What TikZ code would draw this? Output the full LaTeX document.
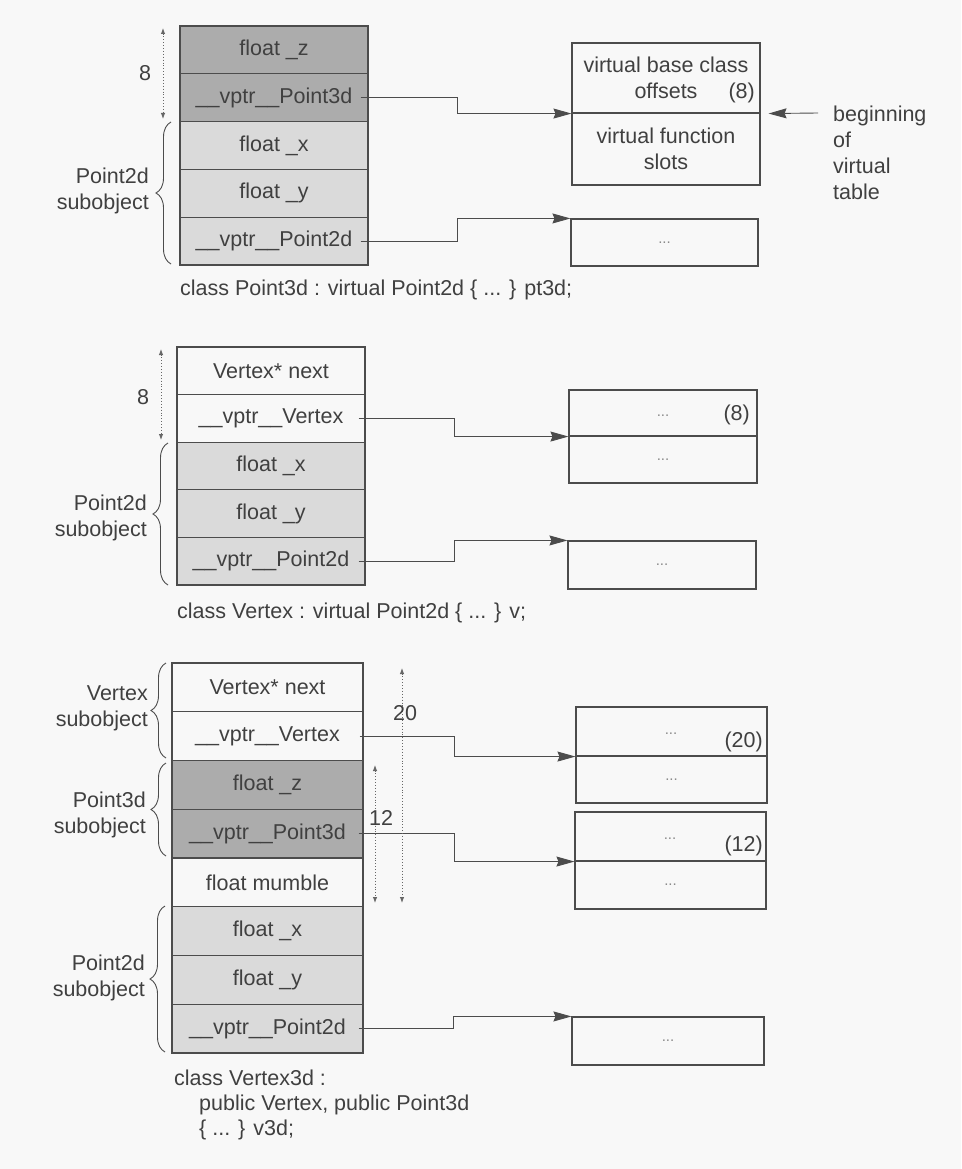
\documentclass[tikz,border=0pt]{standalone}
\usepackage{fontspec}
\setmainfont{Liberation Sans}
\usetikzlibrary{arrows.meta,decorations.pathreplacing,calc}
\definecolor{ink}{HTML}{404040}
\definecolor{linec}{HTML}{4C4C4C}
\definecolor{darkf}{HTML}{ACACAC}
\definecolor{lightf}{HTML}{DADADA}
\definecolor{bgc}{HTML}{F8F8F8}
\definecolor{dotc}{HTML}{8A8A8A}
\begin{document}
\begin{tikzpicture}[x=1pt,y=-1pt,
  every node/.style={font=\fontsize{21.5}{26}\selectfont, text=ink, inner sep=0pt},
  cell/.style={draw=linec, line width=1.3pt},
  vt/.style={draw=linec, line width=1.1pt},
  divline/.style={draw=linec, line width=1.8pt},
  dots/.style={font=\fontsize{15}{15}\selectfont, text=dotc},
  conn/.style={draw=linec, line width=0.9pt, -{Stealth[length=18pt,width=10pt,inset=2pt]}},
  dim/.style={draw=linec!85, dotted, line width=0.9pt, {Latex[length=6pt,width=4.5pt]}-{Latex[length=6pt,width=4.5pt]}},
  brc/.style={draw=linec, line width=0.9pt, decorate, decoration={brace, amplitude=15pt}}]
\useasboundingbox (0,0) rectangle (961,1169);
\fill[bgc] (0,0) rectangle (961,1169);

% ---------------- top section ----------------
\begin{scope}[every node/.append style={minimum width=188pt, minimum height=47.8pt}]
\node[cell, fill=darkf]  (t1) at (274,49.9)  {float \_z};
\node[cell, fill=darkf]  (t2) at (274,97.7)  {\_\_vptr\_\_Point3d};
\node[cell, fill=lightf] (t3) at (274,145.5) {float \_x};
\node[cell, fill=lightf] (t4) at (274,193.3) {float \_y};
\node[cell, fill=lightf] (t5) at (274,241.1) {\_\_vptr\_\_Point2d};
\end{scope}
\node[vt, minimum width=188pt, minimum height=70pt, align=center] (vt1a) at (666,78) {virtual base class\\offsets};
\node[vt, minimum width=188pt, minimum height=72pt, align=center] (vt1b) at (666,149) {virtual function\\slots};
\draw[divline] (vt1a.south west) -- (vt1a.south east);
\node[anchor=east] (o8a) at (755,93) {(8)};
\node[vt, minimum width=187pt, minimum height=47pt] (vt2) at (664.5,242.5) {};
\node[dots] (d1) at (vt2.center) {...};
\node[anchor=west, align=left] (beg) at (833,153) {beginning\\of\\virtual\\table};
\coordinate (begA) at (818,113);
\draw[conn] (begA) -- ([xshift=8pt]vt1a.south east);
\draw[conn] ([xshift=-8pt]t2.east) -- ++(97,0) |- (vt1a.south west);
\draw[conn] ([xshift=-8pt]t5.east) -- ++(97,0) |- (vt2.north west);
\coordinate (dta) at (163,28);
\coordinate (dtb) at (163,119);
\draw[dim] (dta) -- (dtb);
\node (l8a) at (145,73) {8};
\draw[brc] (171,264) -- (171,122);
\node[anchor=east, align=right] (lp2a) at (149,191) {Point2d\\subobject};
\node[anchor=west] (cap1) at (180,290) {class Point3d : virtual Point2d \{ ... \} pt3d;};

% ---------------- middle section ----------------
\begin{scope}[every node/.append style={minimum width=188pt, minimum height=47.6pt}]
\node[cell]              (m1) at (271,370.8) {Vertex* next};
\node[cell]              (m2) at (271,418.4) {\_\_vptr\_\_Vertex};
\node[cell, fill=lightf] (m3) at (271,466)   {float \_x};
\node[cell, fill=lightf] (m4) at (271,513.6) {float \_y};
\node[cell, fill=lightf] (m5) at (271,561.2) {\_\_vptr\_\_Point2d};
\end{scope}
\node[vt, minimum width=188pt, minimum height=46pt] (vm1a) at (663,413) {};
\node[vt, minimum width=188pt, minimum height=47pt] (vm1b) at (663,459.5) {};
\draw[divline] (vm1a.south west) -- (vm1a.south east);
\node[dots] (d2) at (663,416) {...};
\node[dots] (d3) at (vm1b.center) {...};
\node[anchor=east] (o8b) at (750,415) {(8)};
\node[vt, minimum width=188pt, minimum height=48pt] (vm2) at (662,565) {};
\node[dots] (d4) at (vm2.center) {...};
\draw[conn] ([xshift=-7pt]m2.east) -- ++(96,0) |- (vm1a.south west);
\draw[conn] ([xshift=-7pt]m5.east) -- ++(96,0) |- (vm2.north west);
\coordinate (dma) at (161,349);
\coordinate (dmb) at (161,440);
\draw[dim] (dma) -- (dmb);
\node (l8b) at (143,397) {8};
\draw[brc] (168,585) -- (168,443);
\node[anchor=east, align=right] (lp2b) at (147,518) {Point2d\\subobject};
\node[anchor=west] (cap2) at (177,613) {class Vertex : virtual Point2d \{ ... \} v;};

% ---------------- bottom section ----------------
\begin{scope}[every node/.append style={minimum width=191pt, minimum height=48.75pt}]
\node[cell]              (b1) at (267.5,687.4)  {Vertex* next};
\node[cell]              (b2) at (267.5,736.1)  {\_\_vptr\_\_Vertex};
\node[cell, fill=darkf]  (b3) at (267.5,784.9)  {float \_z};
\node[cell, fill=darkf]  (b4) at (267.5,833.6)  {\_\_vptr\_\_Point3d};
\node[cell]              (b5) at (267.5,882.4)  {float mumble};
\node[cell, fill=lightf] (b6) at (267.5,931.1)  {float \_x};
\node[cell, fill=lightf] (b7) at (267.5,979.9)  {float \_y};
\node[cell, fill=lightf] (b8) at (267.5,1028.6) {\_\_vptr\_\_Point2d};
\end{scope}
\node[vt, minimum width=191pt, minimum height=49pt] (vb1a) at (671.5,731.5) {};
\node[vt, minimum width=191pt, minimum height=47pt] (vb1b) at (671.5,779.5) {};
\draw[divline] (vb1a.south west) -- (vb1a.south east);
\node[dots] (d5) at (671,734) {...};
\node[dots] (d6) at (vb1b.center) {...};
\node[anchor=east] (o20) at (763,742) {(20)};
\node[vt, minimum width=191pt, minimum height=49pt] (vb2a) at (670.5,836.5) {};
\node[vt, minimum width=191pt, minimum height=48pt] (vb2b) at (670.5,885) {};
\draw[divline] (vb2a.south west) -- (vb2a.south east);
\node[dots] (d7) at (670,839) {...};
\node[dots] (d8) at (vb2b.center) {...};
\node[anchor=east] (o12) at (763,846) {(12)};
\node[vt, minimum width=192pt, minimum height=48pt] (vb3) at (668,1041) {};
\node[dots] (d9) at (vb3.center) {...};
\draw[conn] ([xshift=-4pt]b2.east) -- ++(95,0) |- (vb1a.south west);
\draw[conn] ([xshift=-5pt]b4.east) -- ++(96,0) |- (vb2a.south west);
\draw[conn] ([xshift=-5pt]b8.east) -- ++(95,0) |- (vb3.north west);
\coordinate (d20a) at (402,668);
\coordinate (d20b) at (402,903);
\draw[dim] (d20a) -- (d20b);
\node (l20) at (405,713) {20};
\coordinate (d12a) at (375,765);
\coordinate (d12b) at (375,903);
\draw[dim] (d12a) -- (d12b);
\node (l12) at (381,818) {12};
\draw[brc] (166,758) -- (166,663);
\node[anchor=east, align=right] (lvs) at (148,708.5) {Vertex\\subobject};
\draw[brc] (166,856) -- (166,763);
\node[anchor=east, align=right] (lp3) at (146,814.5) {Point3d\\subobject};
\draw[brc] (165,1052) -- (165,906);
\node[anchor=east, align=right] (lp2c) at (145,977.5) {Point2d\\subobject};
\node[anchor=west, align=left, font=\fontsize{21.5}{25}\selectfont] (cap3) at (174,1105) {class Vertex3d :\\\hspace*{25pt}public Vertex, public Point3d\\\hspace*{25pt}\{ ... \} v3d;};
\end{tikzpicture}
\end{document}
